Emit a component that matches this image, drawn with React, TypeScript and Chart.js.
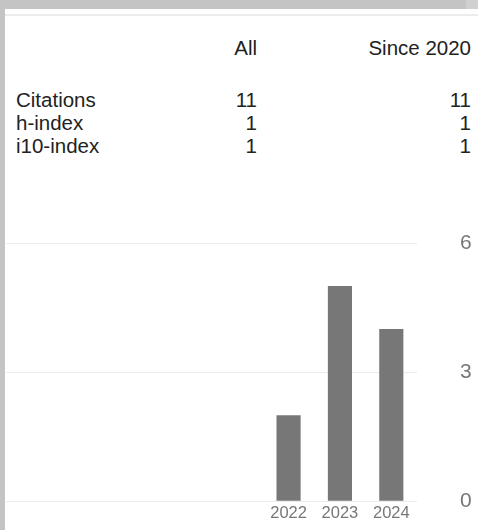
import React, { useEffect, useRef } from "react";
import { Chart, registerables } from "chart.js";

Chart.register(...registerables);

// ---- data ----
const years = ["2017", "2018", "2019", "2020", "2021", "2022", "2023", "2024"];
const citationsPerYear: (number | null)[] = [null, null, null, null, null, 2, 5, 4];
const yTicks = [0, 3, 6];

const columnHeaders = ["All", "Since 2020"];
const metricNames = ["Citations", "h-index", "i10-index"];
const metricAll = [11, 1, 1];
const metricSince = [11, 1, 1];

const FONT = "'Liberation Sans', Arial, Helvetica, sans-serif";
const Y_LABEL_GAP = 43;

function CitationChart() {
  const ref = useRef<HTMLCanvasElement | null>(null);
  useEffect(() => {
    if (!ref.current) return;
    const chart = new Chart(ref.current, {
      type: "bar",
      data: {
        labels: years,
        datasets: [
          {
            data: citationsPerYear,
            backgroundColor: "#777777",
            borderWidth: 0,
            categoryPercentage: 1,
            barPercentage: 0.47,
          },
        ],
      },
      options: {
        animation: false,
        responsive: false,
        maintainAspectRatio: false,
        layout: { padding: { top: 23, bottom: 5, left: 6, right: 6 } },
        plugins: { legend: { display: false }, tooltip: { enabled: false } },
        scales: {
          x: {
            grid: { display: false, drawTicks: false },
            border: { display: false },
            afterFit: (axis: any) => {
              axis.paddingLeft = 0;
              axis.paddingRight = 0;
            },
            ticks: {
              color: "#777777",
              font: { family: FONT, size: 16.5 },
              padding: 2,
              maxRotation: 0,
              autoSkip: false,
              callback: (_v: any, i: number) =>
                citationsPerYear[i] == null ? "" : years[i],
            },
          },
          y: {
            position: "right",
            min: yTicks[0],
            max: yTicks[yTicks.length - 1],
            afterBuildTicks: (axis: any) => {
              axis.ticks = yTicks.map((v) => ({ value: v }));
            },
            afterFit: (axis: any) => {
              axis.paddingTop = 0;
              axis.paddingBottom = 0;
              axis.width = Y_LABEL_GAP + 12;
            },
            grid: { color: "#ececec", drawTicks: false, lineWidth: 1 },
            border: { display: false },
            ticks: {
              color: "#777777",
              font: { family: FONT, size: 21 },
              padding: Y_LABEL_GAP,
            },
          },
        },
      },
    });
    return () => chart.destroy();
  }, []);
  return <canvas ref={ref} width={478} height={310} style={{ display: "block", width: 478, height: 310 }} />;
}

export default function App() {
  const text: React.CSSProperties = {
    position: "absolute",
    fontFamily: FONT,
    fontSize: 20.5,
    lineHeight: "22px",
    color: "#222222",
    whiteSpace: "nowrap",
  };
  const rowTops = [89, 112, 135];
  return (
    <div
      style={{
        position: "fixed",
        left: 0,
        top: 0,
        width: 478,
        height: 530,
        background: "#ffffff",
        overflow: "hidden",
      }}
    >
      <div style={{ position: "absolute", left: 0, top: 0, width: 466, height: 9, background: "#c4c4c4" }} />
      <div style={{ position: "absolute", left: 466, top: 0, width: 12, height: 9, background: "#d0d0d0" }} />
      <div style={{ position: "absolute", left: 0, top: 0, width: 5, height: 530, background: "#c4c4c4" }} />
      <div style={{ position: "absolute", left: 5, top: 14, width: 473, height: 2, background: "#ececec" }} />

      <div style={{ ...text, right: 478 - 257, top: 37, textAlign: "right" }}>{columnHeaders[0]}</div>
      <div style={{ ...text, right: 478 - 471, top: 37, textAlign: "right" }}>{columnHeaders[1]}</div>

      {metricNames.map((name, i) => (
        <React.Fragment key={name}>
          <div style={{ ...text, left: 16, top: rowTops[i] }}>{name}</div>
          <div style={{ ...text, right: 478 - 257, top: rowTops[i], textAlign: "right" }}>{metricAll[i]}</div>
          <div style={{ ...text, right: 478 - 471, top: rowTops[i], textAlign: "right" }}>{metricSince[i]}</div>
        </React.Fragment>
      ))}

      <div style={{ position: "absolute", left: 0, top: 220 }}>
        <CitationChart />
      </div>
    </div>
  );
}
